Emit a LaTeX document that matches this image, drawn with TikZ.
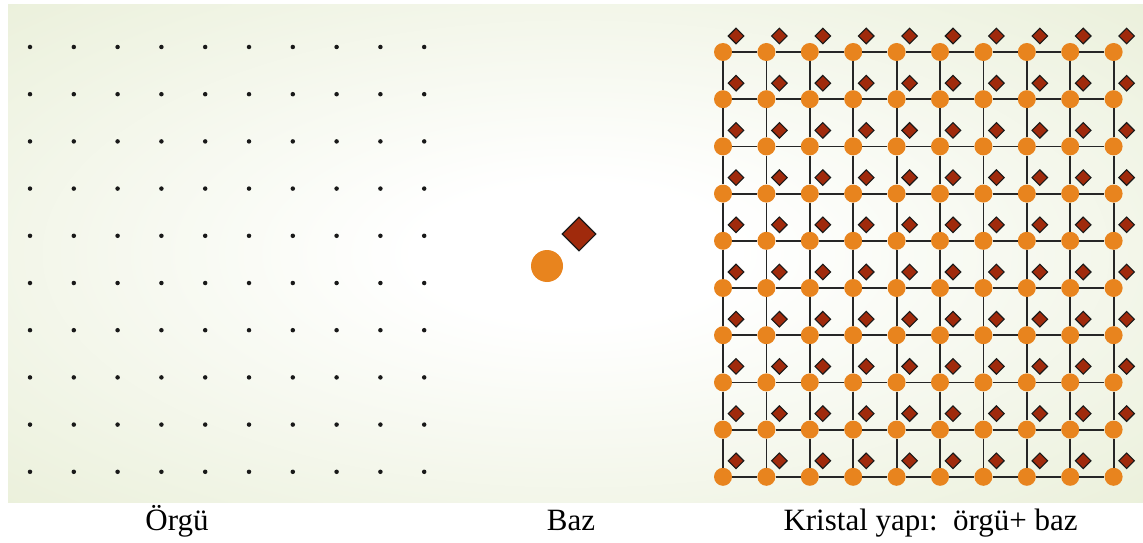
\documentclass[tikz,border=0pt]{standalone}
\usepackage{fontspec}
\setmainfont{Liberation Serif}
\usepackage{tikz}
\usetikzlibrary{positioning,shapes.geometric}
\definecolor{bggreen}{RGB}{232,238,214}
\definecolor{atomorange}{RGB}{232,132,30}
\definecolor{basisred}{RGB}{160,42,12}
\pgfdeclareradialshading{bgglow}{\pgfpoint{0bp}{0bp}}{color(0bp)=(white); color(7bp)=(white); color(40bp)=(bggreen); color(100bp)=(bggreen)}

\begin{document}
\begin{tikzpicture}[x=1pt,y=-1pt,
		latdot/.style={circle,fill=black!90,inner sep=0pt,minimum size=4.5pt},
		atom/.style={circle,fill=atomorange,inner sep=0pt,minimum size=#1},
		atom/.default=18pt,
		basis/.style={diamond,draw=black!90,fill=basisred,line width=1.1pt,inner sep=0pt,minimum width=#1,minimum height=#1},
		basis/.default=16pt,
		bond/.style={line width=1.8pt,black!85},
		caption/.style={font=\fontsize{31}{36}\selectfont,anchor=base}]
	
	\useasboundingbox (0,0) rectangle (1143,543);
	\shade[shading=bgglow] (8,5) rectangle (1143,502);
	
	% lattice
	\foreach \i in {0,...,9}
		\foreach \j in {0,...,9}
			\node[latdot] (p-\i-\j) at ({30+43.8*\i},{47+47.2*\j}) {};
	
	% basis
	\node[atom=32pt] (b-atom) at (547,266) {};
	\node[basis=34pt] (b-diam) at (579,234) {};
	
	% crystal
	\foreach \i in {0,...,9}
		\foreach \j in {0,...,9}
		{
			\node[atom] (c-\i-\j) at ({723+43.4*\i},{52+47.2*\j}) {};
			\node[basis] (d-\i-\j) at ([shift={(13,-16)}]c-\i-\j.center) {};
		}
	\foreach \i [count=\k] in {0,...,8}
		\foreach \j in {0,...,9}
		{
			\draw[bond] (c-\i-\j) -- (c-\k-\j);
			\draw[bond] (c-\j-\i) -- (c-\j-\k);
		}
	
	\node[caption] (l-lattice) at (177,530) {Örgü};
	\node[caption] (l-basis) at (571,530) {Baz};
	\node[caption,anchor=base west] (l-crystal) at (780,530) {Kristal yapı:\ \ örgü+ baz};
	
\end{tikzpicture}
\end{document}
